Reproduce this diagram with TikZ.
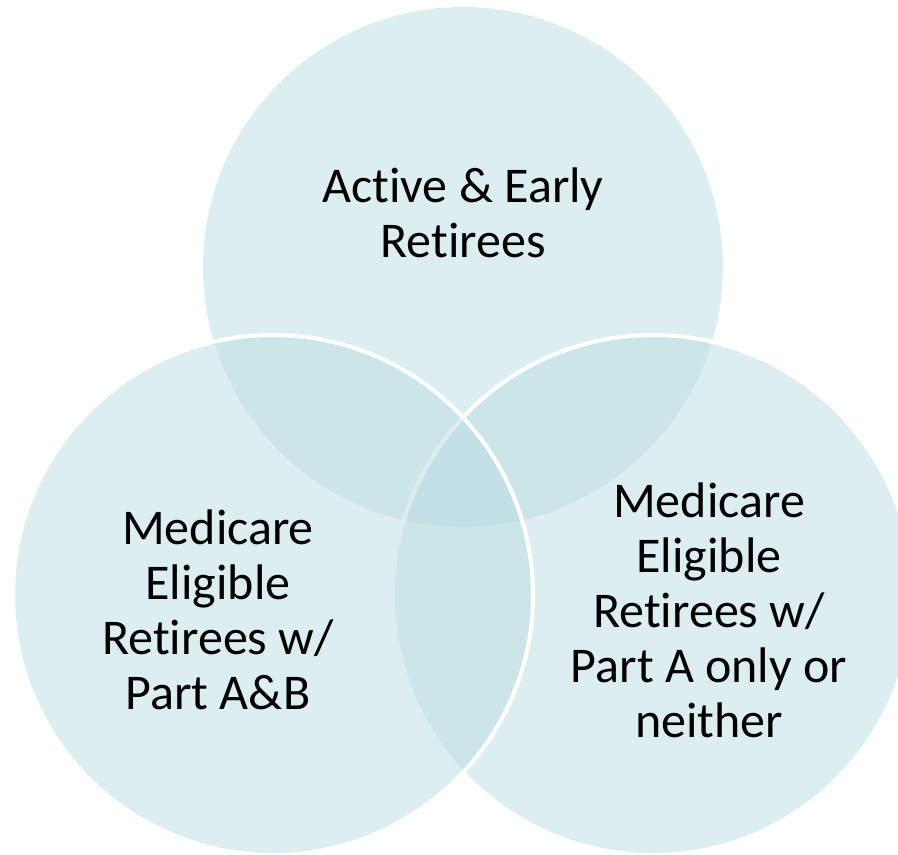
\documentclass[tikz,border=0pt]{standalone}
\usepackage{fontspec}
\setmainfont[Ligatures=NoCommon]{Carlito}
\definecolor{venn}{RGB}{187,221,225}
\tikzset{
  vennfill/.style={fill=venn, fill opacity=0.5},
  vennring/.style={vennfill, draw=white, line width=4pt},
  venntext/.style={align=center, text=black, inner sep=0pt,
    font=\fontsize{50}{55}\selectfont}
}
\begin{document}
\begin{tikzpicture}[x=1pt, y=-1pt]
  \useasboundingbox (0,0) rectangle (898,855);
  \clip (0,0) rectangle (898,855);
  % three overlapping sets
  \fill[vennfill] (463,267) circle[radius=260pt];
  \filldraw[vennring] (653,595) circle[radius=260pt];
  \filldraw[vennring] (273,595) circle[radius=260pt];
  % labels
  \node[venntext] (active) at (463,213) {Active \& Early\\Retirees};
  \node[venntext] (partab) at (218,610) {Medicare\\Eligible\\Retirees w/\\Part A\&B};
  \node[venntext] (parta) at (709,610) {Medicare\\Eligible\\Retirees w/\\Part A only or\\neither};
\end{tikzpicture}
\end{document}
